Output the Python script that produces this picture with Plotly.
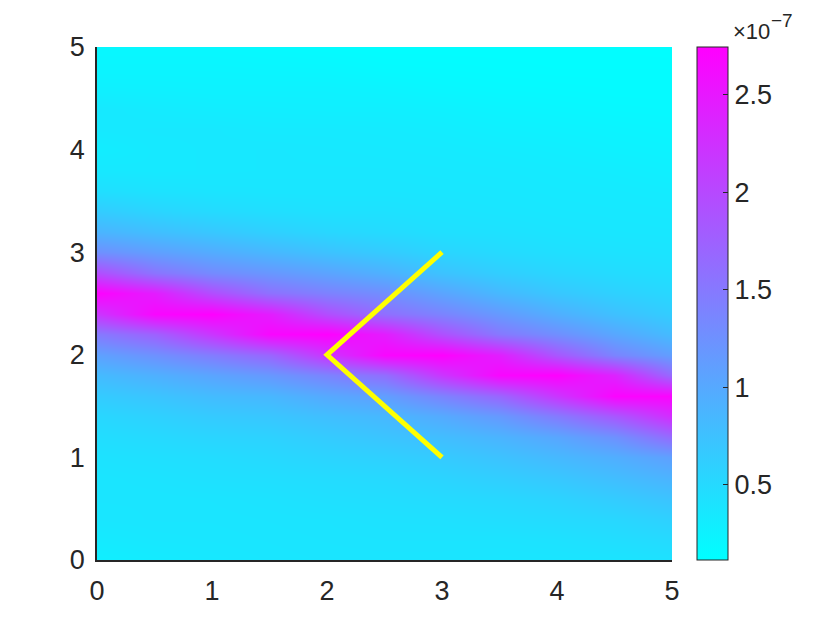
import numpy as np
import plotly.graph_objects as go

# grid coordinates
x_grid = [0, 0.5, 1, 1.5, 2, 2.5, 3, 3.5, 4, 4.5, 5]
y_grid = [0, 0.2, 0.4, 0.6, 0.8, 1.0, 1.2, 1.4, 1.6, 1.8, 2.0, 2.2, 2.4, 2.6,
          2.8, 3.0, 3.2, 3.4, 3.6, 3.8, 4.0, 4.2, 4.4, 4.6, 4.8, 5.0]

# field values (units of 1e-7), one list per x column, bottom (y=0) to top (y=5)
col_x0_0 = [0.28, 0.33, 0.37, 0.38, 0.38, 0.41, 0.46, 0.53, 0.65, 0.82, 1.08, 1.49, 2.20, 2.73, 1.95, 1.26, 0.89, 0.64, 0.45, 0.35, 0.30, 0.34, 0.35, 0.27, 0.22, 0.19]
col_x0_5 = [0.32, 0.36, 0.38, 0.38, 0.40, 0.44, 0.50, 0.59, 0.72, 0.93, 1.25, 1.75, 2.68, 2.45, 1.55, 1.10, 0.78, 0.55, 0.41, 0.34, 0.34, 0.35, 0.32, 0.26, 0.22, 0.19]
col_x1_0 = [0.35, 0.37, 0.38, 0.39, 0.43, 0.47, 0.55, 0.66, 0.81, 1.05, 1.46, 2.20, 2.74, 1.95, 1.32, 0.97, 0.69, 0.49, 0.39, 0.35, 0.35, 0.35, 0.30, 0.25, 0.22, 0.19]
col_x1_5 = [0.37, 0.38, 0.39, 0.41, 0.45, 0.51, 0.58, 0.70, 0.86, 1.18, 1.70, 2.68, 2.45, 1.58, 1.19, 0.85, 0.60, 0.45, 0.38, 0.36, 0.36, 0.33, 0.29, 0.25, 0.21, 0.17]
col_x2_0 = [0.38, 0.39, 0.40, 0.44, 0.48, 0.56, 0.65, 0.78, 1.00, 1.39, 2.20, 2.74, 1.95, 1.41, 1.06, 0.74, 0.53, 0.42, 0.38, 0.36, 0.35, 0.33, 0.28, 0.25, 0.20, 0.15]
col_x2_5 = [0.38, 0.40, 0.42, 0.46, 0.51, 0.60, 0.72, 0.85, 1.11, 1.62, 2.68, 2.45, 1.60, 1.28, 0.92, 0.65, 0.49, 0.42, 0.38, 0.36, 0.34, 0.32, 0.28, 0.23, 0.17, 0.13]
col_x3_0 = [0.38, 0.40, 0.43, 0.49, 0.56, 0.66, 0.79, 0.99, 1.39, 2.20, 2.74, 1.92, 1.39, 1.05, 0.74, 0.55, 0.44, 0.40, 0.37, 0.35, 0.33, 0.30, 0.26, 0.20, 0.16, 0.13]
col_x3_5 = [0.37, 0.40, 0.46, 0.52, 0.62, 0.74, 0.89, 1.17, 1.70, 2.68, 2.43, 1.50, 1.16, 0.84, 0.62, 0.49, 0.42, 0.38, 0.36, 0.34, 0.31, 0.27, 0.23, 0.18, 0.15, 0.13]
col_x4_0 = [0.38, 0.42, 0.49, 0.57, 0.69, 0.84, 1.03, 1.48, 2.20, 2.74, 1.85, 1.27, 0.94, 0.69, 0.54, 0.44, 0.39, 0.36, 0.34, 0.32, 0.29, 0.25, 0.21, 0.17, 0.14, 0.13]
col_x4_5 = [0.39, 0.46, 0.53, 0.65, 0.79, 0.95, 1.25, 1.85, 2.70, 2.38, 1.38, 1.02, 0.76, 0.59, 0.48, 0.41, 0.37, 0.35, 0.33, 0.30, 0.26, 0.23, 0.19, 0.16, 0.14, 0.13]
col_x5_0 = [0.42, 0.50, 0.60, 0.74, 0.90, 1.10, 1.65, 2.30, 2.70, 1.65, 1.11, 0.81, 0.63, 0.52, 0.44, 0.39, 0.36, 0.34, 0.31, 0.27, 0.24, 0.21, 0.18, 0.16, 0.14, 0.12]

# yellow path
path_x = [3, 2, 3]
path_y = [3, 2, 1]

# ticks
axis_ticks = [0, 1, 2, 3, 4, 5]
cbar_ticks = [0.5, 1, 1.5, 2, 2.5]
cbar_ticktext = ["0.5", "1", "1.5", "2", "2.5"]
z_min, z_max = 0.115, 2.746

columns = [col_x0_0, col_x0_5, col_x1_0, col_x1_5, col_x2_0, col_x2_5,
           col_x3_0, col_x3_5, col_x4_0, col_x4_5, col_x5_0]
z = np.array(columns).T

FONT = "Liberation Sans, Arial, Helvetica, sans-serif"
TXT = "rgb(38,38,38)"
TICK_SIZE = 27

fig = go.Figure()
fig.add_trace(go.Heatmap(
    x=x_grid, y=y_grid, z=z, zsmooth="best",
    zmin=z_min, zmax=z_max,
    colorscale=[[0, "rgb(0,255,255)"], [1, "rgb(255,0,255)"]],
    colorbar=dict(
        thickness=31, len=1, lenmode="fraction", y=0.5, yanchor="middle",
        x=1.0435, xanchor="left", xpad=0, ypad=0,
        outlinewidth=1, outlinecolor=TXT,
        ticks="inside", ticklen=5, tickcolor=TXT, tickwidth=1,
        tickvals=cbar_ticks, ticktext=cbar_ticktext,
        tickfont=dict(family=FONT, size=TICK_SIZE, color=TXT),
    ),
    hoverinfo="skip",
))
fig.add_trace(go.Scatter(
    x=path_x, y=path_y, mode="lines",
    line=dict(color="rgb(255,255,0)", width=5),
    showlegend=False, hoverinfo="skip",
))

# page body has an 8px margin, so the figure is shrunk to fit the 840x630 window
fig.update_layout(
    width=832, height=622,
    margin=dict(l=89, r=168, t=39, b=70),
    paper_bgcolor="white", plot_bgcolor="white",
    showlegend=False,
    xaxis=dict(range=[0, 5], tickvals=axis_ticks, showgrid=False, zeroline=False,
               showline=True, linecolor=TXT, linewidth=1.5, ticks="", mirror=False,
               ticklabelstandoff=6,
               tickfont=dict(family=FONT, size=TICK_SIZE, color=TXT)),
    yaxis=dict(range=[0, 5], tickvals=axis_ticks, showgrid=False, zeroline=False,
               showline=True, linecolor=TXT, linewidth=1.5, ticks="", mirror=False,
               ticklabelstandoff=5,
               tickfont=dict(family=FONT, size=TICK_SIZE, color=TXT)),
    annotations=[
        dict(text="×10", xref="paper", yref="paper",
             x=1.102, y=1.031, xanchor="left", yanchor="middle", showarrow=False,
             font=dict(family=FONT, size=22, color=TXT)),
        dict(text="\u22127", xref="paper", yref="paper",
             x=1.168, y=1.0526, xanchor="left", yanchor="middle", showarrow=False,
             font=dict(family=FONT, size=19, color=TXT)),
    ],
)

fig.write_html("out.html")
